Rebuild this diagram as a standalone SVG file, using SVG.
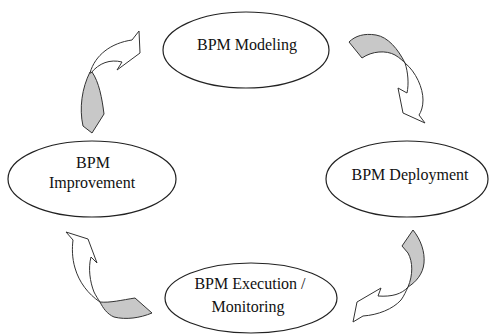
<svg xmlns="http://www.w3.org/2000/svg" width="490" height="336" viewBox="0 0 490 336">
<style>
.node ellipse{fill:#fff;stroke:#222;stroke-width:1.2}
.node text{font-size:16px;fill:#111;text-anchor:middle}
.front{fill:#fff;stroke:#333;stroke-width:1}
.back{fill:#c8c8c8;stroke:#333;stroke-width:1}
</style>
<rect width="490" height="336" fill="#fff"/>
<g id="modeling" class="node" font-family="'Liberation Serif', 'Times New Roman', serif">
<ellipse cx="246" cy="50" rx="83" ry="38"/>
<text x="247" y="50">BPM Modeling</text>
</g>
<g id="deployment" class="node" font-family="'Liberation Serif', 'Times New Roman', serif">
<ellipse cx="407" cy="179" rx="81" ry="38"/>
<text x="410" y="180">BPM Deployment</text>
</g>
<g id="execution" class="node" font-family="'Liberation Serif', 'Times New Roman', serif">
<ellipse cx="251" cy="298" rx="86" ry="35"/>
<text x="250" y="289">BPM Execution /</text>
<text x="248" y="312">Monitoring</text>
</g>
<g id="improvement" class="node" font-family="'Liberation Serif', 'Times New Roman', serif">
<ellipse cx="92" cy="179" rx="84" ry="38"/>
<text x="93" y="168">BPM</text>
<text x="92" y="188">Improvement</text>
</g>
<g id="connectors">
<path class="back" d="M90,72 C82,88 79,108 83,126 L92,133 L104,114 C102,98 99,82 92,72 Z"/>
<path class="front" d="M90,73 C95,55 111,43 132,40 L139,31 L140,53 L117,70 L122,62 C110,59 99,63 91,73 Z"/>
<path class="back" d="M405,63 C398,49 388,37 376,35 C364,33 355,36 349,42 L362,58 C372,51 386,50 395,55 C400,58 403,61 405,63 Z"/>
<path class="front" d="M405,63 C416,72 423,88 423,100 C423,107 421,112 419,115 L425,123 L403,113 L398,88 L407,93 C409,84 408,72 405,63 Z"/>
<path class="back" d="M408,287 C413,275 413,262 408,253 L402,246 L413,230 C421,240 425,252 424,263 C423,274 416,282 408,287 Z"/>
<path class="front" d="M408,287 C402,294 392,297 378,296 L381,288 L357,302 L353,322 L363,316 C378,315 393,309 401,300 C404,296 406,291 408,287 Z"/>
<path class="back" d="M100,302 C110,303 122,300 135,298 L152,313 C140,318 126,320 114,317 C107,314 103,308 100,302 Z"/>
<path class="front" d="M100,302 C88,294 79,282 75,268 C72,258 72,248 73,240 L66,232 L88,239 L97,263 L91,257 C88,268 90,282 94,292 C96,296 98,299 100,302 Z"/>
</g>
</svg>
